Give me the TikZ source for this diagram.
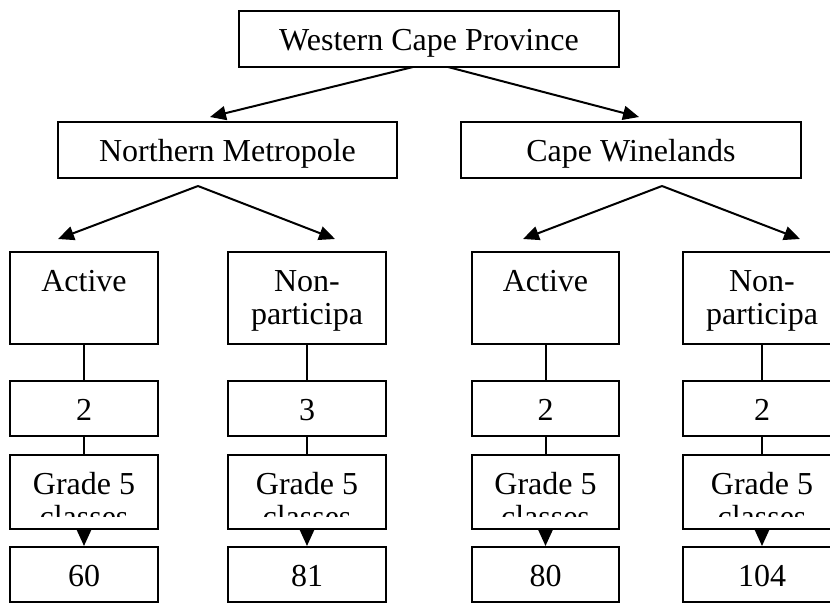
\documentclass[tikz,border=0pt]{standalone}
\usepackage{fontspec}
\setmainfont{Liberation Serif}
\usetikzlibrary{arrows.meta}
% name, cx, cy, width, height, text (text baseline of the first line 40pt below the top)
\newcommand{\mybox}[6]{%
  \node[box, minimum width=#4pt, minimum height=#5pt] (#1) at (#2,#3) {};
  \node[lbl] (#1t) at ([yshift=-40pt]#1.north) {#6};}
% two-line variant: base anchor is the last line, so shift one more line
\newcommand{\mytwobox}[6]{%
  \node[box, minimum width=#4pt, minimum height=#5pt] (#1) at (#2,#3) {};
  \node[lbl] (#1t) at ([yshift=-73pt]#1.north) {#6};}
\newcommand{\gradebox}[4]{%
  \node[box, minimum width=#4pt, minimum height=74pt] (#1) at (#2,#3) {};
  \begin{scope}
    \clip ([xshift=1pt,yshift=-1pt]#1.north west) rectangle ([xshift=-1pt,yshift=14pt]#1.south east);
    \node[lbl] (#1t) at ([yshift=-73pt]#1.north) {Grade 5\\classes};
  \end{scope}}
\begin{document}
\begin{tikzpicture}[x=1pt,y=-1pt,
  box/.style={draw, line width=2pt, rectangle, inner sep=0pt},
  lbl/.style={anchor=base, align=center, font=\fontsize{32}{33}\selectfont, inner sep=0pt},
  link/.style={line width=2pt},
  arr/.style={line width=2pt, -{Triangle[length=16pt,width=14pt]}}]
\useasboundingbox (0,0) rectangle (830,603);
\clip (0,0) rectangle (830,603);
% level 0-1
\mybox{top}{429}{39}{380}{56}{Western Cape Province}
\mybox{nm}{227.5}{150}{339}{56}{Northern Metropole}
\mybox{cw}{631}{150}{340}{56}{Cape Winelands}
% level 2
\mybox{a1}{84}{298}{148}{92}{Active}
\mytwobox{n1}{307}{298}{158}{92}{Non-\\participa}
\mybox{a2}{545.5}{298}{147}{92}{Active}
\mytwobox{n2}{762}{298}{158}{92}{Non-\\participa}
% numbers of schools
\mybox{s1}{84}{408.5}{148}{55}{2}
\mybox{s2}{307}{408.5}{158}{55}{3}
\mybox{s3}{545.5}{408.5}{147}{55}{2}
\mybox{s4}{762}{408.5}{158}{55}{2}
% grade boxes
\gradebox{g1}{84}{492}{148}
\gradebox{g2}{307}{492}{158}
\gradebox{g3}{545.5}{492}{147}
\gradebox{g4}{762}{492}{158}
% learners
\mybox{f1}{84}{574.5}{148}{55}{60}
\mybox{f2}{307}{574.5}{158}{55}{81}
\mybox{f3}{545.5}{574.5}{147}{55}{80}
\mybox{f4}{762}{574.5}{158}{55}{104}
% free ends of slanted arrows
\coordinate (wl) at (413,67);
\coordinate (wr) at (448,67);
\coordinate (nmtip) at (210,117);
\coordinate (cwtip) at (639,117);
\coordinate (nmo) at (198,186);
\coordinate (a1tip) at (58,239);
\coordinate (n1tip) at (335,239);
\coordinate (cwo) at (662,186);
\coordinate (a2tip) at (523,239);
\coordinate (n2tip) at (800,239);
\draw[arr] (wl) -- (nmtip);
\draw[arr] (wr) -- (cwtip);
\draw[arr] (nmo) -- (a1tip);
\draw[arr] (nmo) -- (n1tip);
\draw[arr] (cwo) -- (a2tip);
\draw[arr] (cwo) -- (n2tip);
% vertical links
\foreach \i/\j/\k/\l in {a1/s1/g1/f1, n1/s2/g2/f2, a2/s3/g3/f3, n2/s4/g4/f4}{
  \draw[link] (\i.south) -- (\j.north);
  \draw[link] (\j.south) -- (\k.north);
  \draw[arr] (\k.south) -- (\l.north);
}
\end{tikzpicture}
\end{document}
